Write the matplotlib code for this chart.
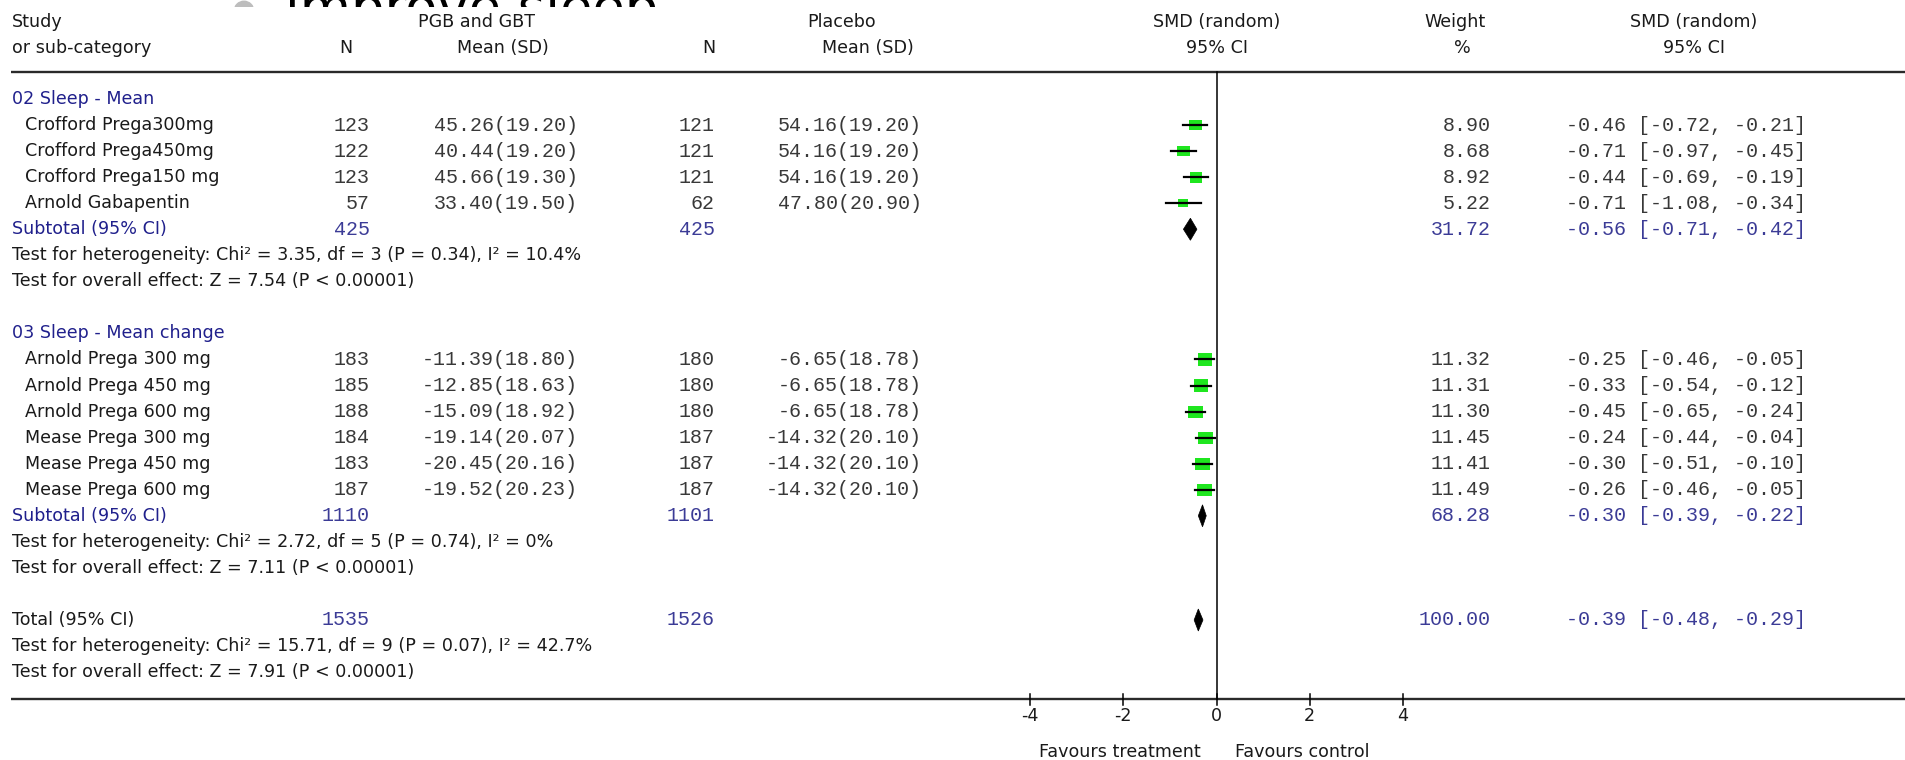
import matplotlib
matplotlib.use("Agg")
import matplotlib.pyplot as plt
from matplotlib.transforms import blended_transform_factory
from matplotlib.patches import Rectangle, Circle, Polygon
import numpy as np

# ---------------- data ----------------
g1_title = "02 Sleep - Mean"
g1_studies = ["Crofford Prega300mg", "Crofford Prega450mg", "Crofford Prega150 mg", "Arnold Gabapentin"]
g1_n_trt = [123, 122, 123, 57]
g1_mean_trt = [45.26, 40.44, 45.66, 33.40]
g1_sd_trt = [19.20, 19.20, 19.30, 19.50]
g1_n_ctl = [121, 121, 121, 62]
g1_mean_ctl = [54.16, 54.16, 54.16, 47.80]
g1_sd_ctl = [19.20, 19.20, 19.20, 20.90]
g1_weight = [8.90, 8.68, 8.92, 5.22]
g1_smd = [-0.46, -0.71, -0.44, -0.71]
g1_lo = [-0.72, -0.97, -0.69, -1.08]
g1_hi = [-0.21, -0.45, -0.19, -0.34]
g1_sub_n = [425, 425]
g1_sub = [31.72, -0.56, -0.71, -0.42]
g1_het = "Test for heterogeneity: Chi\u00b2 = 3.35, df = 3 (P = 0.34), I\u00b2 = 10.4%"
g1_eff = "Test for overall effect: Z = 7.54 (P < 0.00001)"

g2_title = "03 Sleep - Mean change"
g2_studies = ["Arnold Prega 300 mg", "Arnold Prega 450 mg", "Arnold Prega 600 mg",
              "Mease Prega 300 mg", "Mease Prega 450 mg", "Mease Prega 600 mg"]
g2_n_trt = [183, 185, 188, 184, 183, 187]
g2_mean_trt = [-11.39, -12.85, -15.09, -19.14, -20.45, -19.52]
g2_sd_trt = [18.80, 18.63, 18.92, 20.07, 20.16, 20.23]
g2_n_ctl = [180, 180, 180, 187, 187, 187]
g2_mean_ctl = [-6.65, -6.65, -6.65, -14.32, -14.32, -14.32]
g2_sd_ctl = [18.78, 18.78, 18.78, 20.10, 20.10, 20.10]
g2_weight = [11.32, 11.31, 11.30, 11.45, 11.41, 11.49]
g2_smd = [-0.25, -0.33, -0.45, -0.24, -0.30, -0.26]
g2_lo = [-0.46, -0.54, -0.65, -0.44, -0.51, -0.46]
g2_hi = [-0.05, -0.12, -0.24, -0.04, -0.10, -0.05]
g2_sub_n = [1110, 1101]
g2_sub = [68.28, -0.30, -0.39, -0.22]
g2_het = "Test for heterogeneity: Chi\u00b2 = 2.72, df = 5 (P = 0.74), I\u00b2 = 0%"
g2_eff = "Test for overall effect: Z = 7.11 (P < 0.00001)"

total_n = [1535, 1526]
total = [100.00, -0.39, -0.48, -0.29]
total_het = "Test for heterogeneity: Chi\u00b2 = 15.71, df = 9 (P = 0.07), I\u00b2 = 42.7%"
total_eff = "Test for overall effect: Z = 7.91 (P < 0.00001)"

axis_ticks = [-4, -2, 0, 2, 4]

# ---------------- layout ----------------
W, H = 1905, 760
SANS = "DejaVu Sans"
MONO = "Liberation Mono"
FS = 12.6
FS_MONO = 14.4
NAVY = "#20208c"
NAVY_NUM = "#3b3b96"
TXT = "#1a1a1a"
NUM = "#383838"
GREEN = "#1fe61f"

ZERO_PX = 1216.5      # pixel column of the line of no effect
PX_PER_UNIT = 46.6
TOP_COVER = 7

fig = plt.figure(figsize=(W / 100, H / 100), dpi=100)

# slide heading partly hidden behind the plot panel
bg = fig.add_axes([0, 0, 1, 1], zorder=-1)
bg.set_xlim(0, W)
bg.set_ylim(H, 0)
bg.axis("off")
bg.add_patch(Circle((244, 11), 9.75, color="#bdbdbd"))
bg.text(285, 25, "improve sleep", fontsize=38, family=SANS, va="baseline",
        ha="left", color="black")

ax = fig.add_axes([0, 0, 1, (H - TOP_COVER) / H], zorder=0)
ax.set_facecolor("white")
ax.set_xlim(-ZERO_PX / PX_PER_UNIT, (W - ZERO_PX) / PX_PER_UNIT)
ax.set_ylim(H, TOP_COVER)
for s in ax.spines.values():
    s.set_visible(False)
ax.set_xticks([])
ax.set_yticks([])

tx = blended_transform_factory(ax.transAxes, ax.transData)


def put(px, y, s, ha="left", mono=False, color=TXT, **kw):
    ax.text(px / W, y, s, transform=tx, ha=ha, va="center",
            family=MONO if mono else SANS, fontsize=FS_MONO if mono else FS,
            color=color, **kw)


def row_y(i):
    return 99 + 26.05 * i


X_HEAD = 12
X_STUDY = 25
N1_R, MEAN1_R, N2_R, MEAN2_R, W_R, CI_R = 370, 578, 715, 922, 1491, 1806

# column headers
put(X_HEAD, 22, "Study")
put(X_HEAD, 48, "or sub-category")
put(477, 22, "PGB and GBT", ha="center")
put(346, 48, "N", ha="center")
put(503, 48, "Mean (SD)", ha="center")
put(842, 22, "Placebo", ha="center")
put(709, 48, "N", ha="center")
put(868, 48, "Mean (SD)", ha="center")
put(1217, 22, "SMD (random)", ha="center")
put(1217, 48, "95% CI", ha="center")
put(1455, 22, "Weight", ha="center")
put(1462, 48, "%", ha="center")
put(1694, 22, "SMD (random)", ha="center")
put(1694, 48, "95% CI", ha="center")

# frame lines
ax.plot([11 / W, 1], [72.5, 72.5], transform=tx, color="#2a2a2a", lw=1.7, solid_capstyle="butt")
ax.plot([11 / W, 1], [699, 699], transform=tx, color="#2a2a2a", lw=1.7, solid_capstyle="butt")
ax.plot([0, 0], [72.5, 699], color="black", lw=1.1)

for t in axis_ticks:
    ax.plot([t, t], [694, 705], color="black", lw=1.1)
    ax.text(t, 716, f"{t}", ha="center", va="center", family=SANS, fontsize=FS, color=TXT)
put(1201, 752, "Favours treatment", ha="right")
put(1235, 752, "Favours control", ha="left")


def ci_text(e, l, h):
    return f"{e:.2f} [{l:.2f}, {h:.2f}]"


def draw_group(start, title, studies, n_t, m_t, sd_t, n_c, m_c, sd_c, wts, est, lo, hi,
               sub_n, sub, het, eff):
    put(X_HEAD, row_y(start), title, color=NAVY)
    for k, name in enumerate(studies):
        y = row_y(start + 1 + k)
        put(X_STUDY, y, name)
        put(N1_R, y, f"{n_t[k]}", ha="right", mono=True, color=NUM)
        put(MEAN1_R, y, f"{m_t[k]:.2f}({sd_t[k]:.2f})", ha="right", mono=True, color=NUM)
        put(N2_R, y, f"{n_c[k]}", ha="right", mono=True, color=NUM)
        put(MEAN2_R, y, f"{m_c[k]:.2f}({sd_c[k]:.2f})", ha="right", mono=True, color=NUM)
        put(W_R, y, f"{wts[k]:.2f}", ha="right", mono=True, color=NUM)
        put(CI_R, y, ci_text(est[k], lo[k], hi[k]), ha="right", mono=True, color=NUM)
        side = 3.6 * np.sqrt(wts[k])
        wd = side * 1.2 / PX_PER_UNIT
        ax.add_patch(Rectangle((est[k] - wd / 2, y - side / 2), wd, side,
                               facecolor=GREEN, edgecolor="none", zorder=2))
        ax.plot([lo[k], hi[k]], [y, y], color="black", lw=1.6, zorder=3)
    ys = row_y(start + 1 + len(studies))
    put(X_HEAD, ys, "Subtotal (95% CI)", color=NAVY)
    put(N1_R, ys, f"{sub_n[0]}", ha="right", mono=True, color=NAVY_NUM)
    put(N2_R, ys, f"{sub_n[1]}", ha="right", mono=True, color=NAVY_NUM)
    put(W_R, ys, f"{sub[0]:.2f}", ha="right", mono=True, color=NAVY_NUM)
    put(CI_R, ys, ci_text(sub[1], sub[2], sub[3]), ha="right", mono=True, color=NAVY_NUM)
    ax.add_patch(Polygon([(sub[2], ys), (sub[1], ys - 11), (sub[3], ys), (sub[1], ys + 11)],
                         closed=True, facecolor="black", edgecolor="black", lw=0.5, zorder=3))
    put(X_HEAD, row_y(start + 2 + len(studies)), het)
    put(X_HEAD, row_y(start + 3 + len(studies)), eff)


draw_group(0, g1_title, g1_studies, g1_n_trt, g1_mean_trt, g1_sd_trt, g1_n_ctl,
           g1_mean_ctl, g1_sd_ctl, g1_weight, g1_smd, g1_lo, g1_hi, g1_sub_n, g1_sub,
           g1_het, g1_eff)
draw_group(9, g2_title, g2_studies, g2_n_trt, g2_mean_trt, g2_sd_trt, g2_n_ctl,
           g2_mean_ctl, g2_sd_ctl, g2_weight, g2_smd, g2_lo, g2_hi, g2_sub_n, g2_sub,
           g2_het, g2_eff)

# overall pooled estimate
yt = row_y(20)
put(X_HEAD, yt, "Total (95% CI)")
put(N1_R, yt, f"{total_n[0]}", ha="right", mono=True, color=NAVY_NUM)
put(N2_R, yt, f"{total_n[1]}", ha="right", mono=True, color=NAVY_NUM)
put(W_R, yt, f"{total[0]:.2f}", ha="right", mono=True, color=NAVY_NUM)
put(CI_R, yt, ci_text(total[1], total[2], total[3]), ha="right", mono=True, color=NAVY_NUM)
ax.add_patch(Polygon([(total[2], yt), (total[1], yt - 11), (total[3], yt), (total[1], yt + 11)],
                     closed=True, facecolor="black", edgecolor="black", lw=0.5, zorder=3))
put(X_HEAD, row_y(21), total_het)
put(X_HEAD, row_y(22), total_eff)

fig.savefig("out.png", dpi=100, facecolor="white")
